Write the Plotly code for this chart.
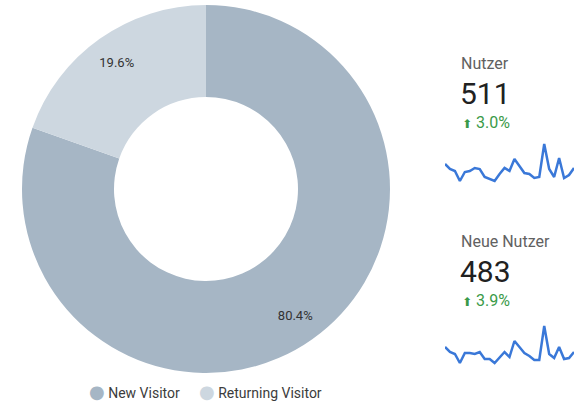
import plotly.graph_objects as go

# ---- data ----
visitor_types = ["New Visitor", "Returning Visitor"]
visitor_share = [80.4, 19.6]
visitor_colors = ["#a6b6c5", "#cdd7e0"]

metric_names = ["Nutzer", "Neue Nutzer"]
metric_values = ["511", "483"]
metric_changes = ["3.0%", "3.9%"]

days = list(range(27))
users_daily = [26, 21, 19, 9, 18, 19, 22, 21, 13, 11, 9, 16, 22, 19, 31, 24, 17, 16, 12, 13, 46, 21, 13, 32, 12, 15, 22]
new_users_daily = [23, 18, 16, 7, 17, 17, 16, 18, 11, 11, 7, 12, 18, 13, 29, 23, 17, 14, 10, 10, 44, 16, 12, 23, 11, 12, 18]

W, H = 575, 401

def fy(p):
    return 1 - p / H

def fx(p):
    return p / W

pie_domain = dict(x=[fx(22), fx(390)], y=[fy(373), fy(5)])

fig = go.Figure()

# donut ring
fig.add_trace(go.Pie(
    labels=visitor_types,
    values=visitor_share,
    hole=0.5,
    sort=False,
    direction="clockwise",
    rotation=0,
    marker=dict(colors=visitor_colors, line=dict(width=0)),
    textinfo="none",
    domain=pie_domain,
    showlegend=False,
    hoverinfo="label+percent",
))
# transparent ring carrying the percentage labels further out
fig.add_trace(go.Pie(
    labels=visitor_types,
    values=visitor_share,
    hole=0.68,
    sort=False,
    direction="clockwise",
    rotation=0,
    marker=dict(colors=["rgba(0,0,0,0)"] * len(visitor_types), line=dict(width=0)),
    texttemplate="%{value:.1f}%",
    textposition="inside",
    insidetextorientation="horizontal",
    textfont=dict(family="Roboto", size=13, color="#333333"),
    domain=pie_domain,
    showlegend=False,
    hoverinfo="skip",
))

spark_series = [users_daily, new_users_daily]
spark_domains = [[fy(185), fy(140)], [fy(365), fy(320)]]
for i, s in enumerate(spark_series):
    xa = "x" if i == 0 else "x2"
    ya = "y" if i == 0 else "y2"
    fig.add_trace(go.Scatter(
        x=days, y=s, mode="lines", xaxis=xa, yaxis=ya,
        line=dict(color="#3a78d8", width=2.5),
        showlegend=False, hoverinfo="skip",
    ))

axis_common = dict(visible=False, showgrid=False, zeroline=False, fixedrange=True)
fig.update_layout(
    xaxis=dict(domain=[fx(445), fx(574)], range=[0, 26], anchor="y", **axis_common),
    yaxis=dict(domain=spark_domains[0], range=[5, 50], anchor="x", **axis_common),
    xaxis2=dict(domain=[fx(445), fx(574)], range=[0, 26], anchor="y2", **axis_common),
    yaxis2=dict(domain=spark_domains[1], range=[5, 50], anchor="x2", **axis_common),
)

annotations = []
block_offsets = [0, 177.5]
for name, val, chg, off in zip(metric_names, metric_values, metric_changes, block_offsets):
    annotations.append(dict(
        x=fx(459), y=fy(63.5 + off), xref="paper", yref="paper",
        xanchor="left", yanchor="middle", showarrow=False,
        text=name, font=dict(family="Roboto", size=16, color="#616161")))
    annotations.append(dict(
        x=fx(457.5), y=fy(93.5 + off), xref="paper", yref="paper",
        xanchor="left", yanchor="middle", showarrow=False,
        text=val, font=dict(family="Roboto", size=30, color="#212121")))
    annotations.append(dict(
        x=fx(460), y=fy(122.5 + off), xref="paper", yref="paper",
        xanchor="left", yanchor="middle", showarrow=False,
        text='<span style="font-family:DejaVu Sans;font-size:12px">⬆</span> ' + chg,
        font=dict(family="Roboto", size=16, color="#3a9a48")))

# legend (circle markers + labels)
legend_x = [87, 197]
for lab, col, lx in zip(visitor_types, visitor_colors, legend_x):
    annotations.append(dict(
        x=fx(lx), y=fy(391), xref="paper", yref="paper",
        xanchor="left", yanchor="middle", showarrow=False,
        text=f'<span style="font-family:DejaVu Sans;font-size:18px;color:{col}">●</span> {lab}',
        font=dict(family="Roboto", size=14, color="#3c3c3c")))

fig.update_layout(
    width=W, height=H,
    margin=dict(l=0, r=0, t=0, b=0),
    paper_bgcolor="white", plot_bgcolor="white",
    annotations=annotations,
)

fig.write_html(
    "out.html",
    config={"displayModeBar": False},
    post_script="document.body.style.margin='0';document.body.style.padding='0';document.body.style.overflow='hidden';",
)
